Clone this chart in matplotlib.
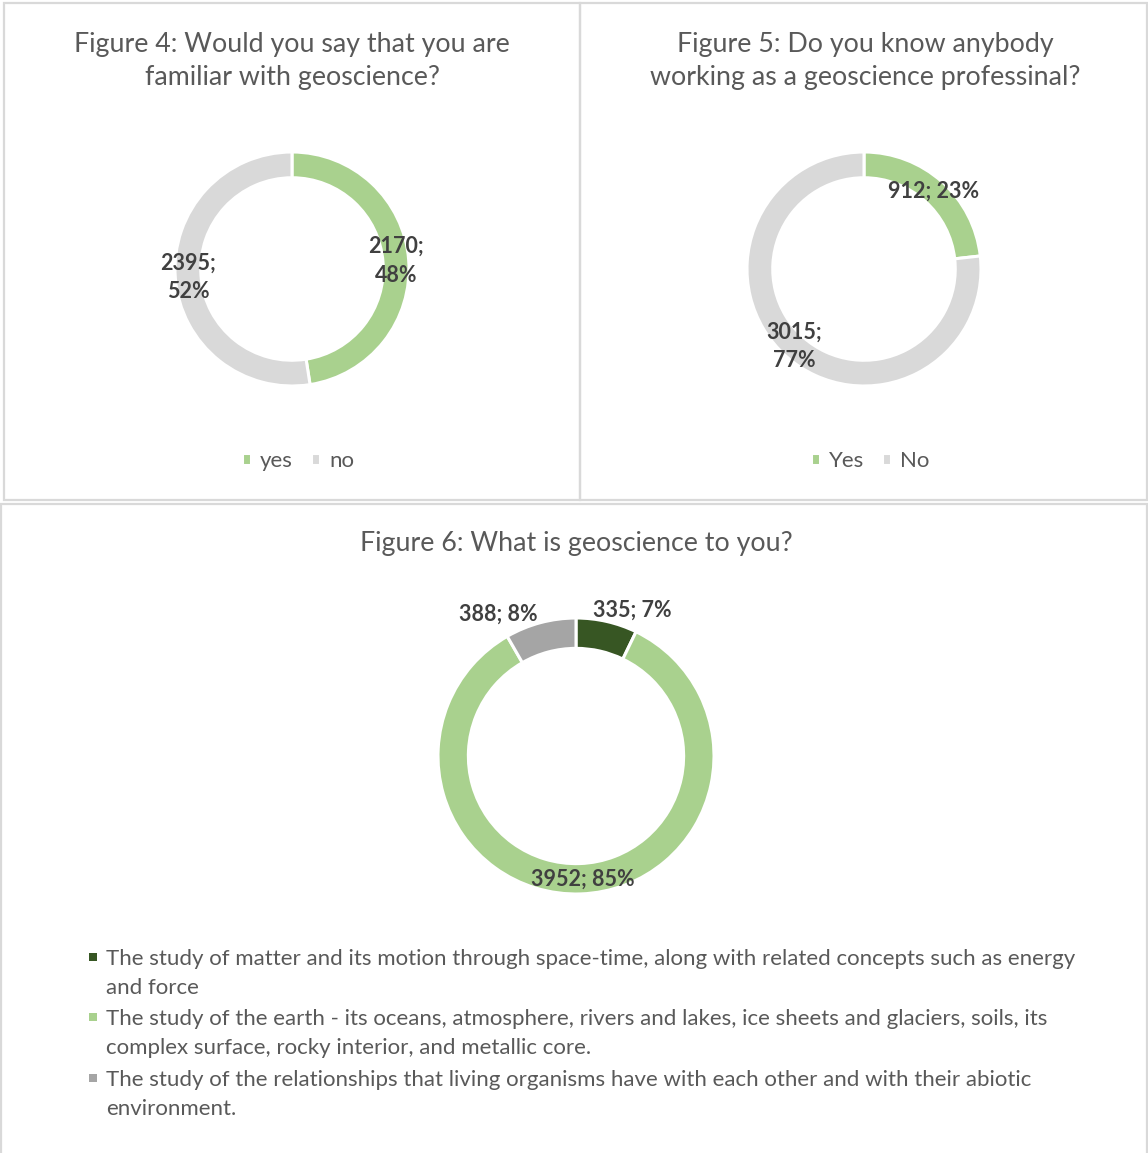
import matplotlib
matplotlib.use("Agg")
import matplotlib.pyplot as plt
from matplotlib.patches import Rectangle
import numpy as np

# ---- data ----
fig4_labels = ["yes", "no"]
fig4_values = [2170, 2395]
fig4_seps = [";\n", ";\n"]

fig5_labels = ["Yes", "No"]
fig5_values = [912, 3015]
fig5_seps = ["; ", ";\n"]

fig6_labels = [
    "The study of matter and its motion through space-time, along with related concepts such as energy\nand force",
    "The study of the earth - its oceans, atmosphere, rivers and lakes, ice sheets and glaciers, soils, its\ncomplex surface, rocky interior, and metallic core.",
    "The study of the relationships that living organisms have with each other and with their abiotic\nenvironment.",
]
fig6_values = [335, 3952, 388]
fig6_seps = ["; ", "; ", "; "]

titles = [
    "Figure 4: Would you say that you are\nfamiliar with geoscience?",
    "Figure 5: Do you know anybody\nworking as a geoscience professinal?",
    "Figure 6: What is geoscience to you?",
]

GREEN = "#A9D18E"
LIGHTGRAY = "#D9D9D9"
DARKGREEN = "#375623"
MIDGRAY = "#A5A5A5"
TITLE_C = "#595959"
LABEL_C = "#404040"
BORDER_C = "#D9D9D9"

FONT = "Lato"
plt.rcParams["font.family"] = [FONT, "DejaVu Sans"]

TITLE_FS = 19.3
LABEL_FS = 15.5
LEGEND_FS = 16

W, H = 1148, 1153
fig = plt.figure(figsize=(W / 100, H / 100), dpi=100)


def fx(px):
    return px / W


def fy(py):
    return 1 - py / H


# panel frames
for (x0, y0, x1, y1) in [(3.5, 3.5, 580, 499.5), (580, 3.5, 1147, 499.5), (0.5, 503.5, 1147, 1160)]:
    fig.patches.append(Rectangle((fx(x0), fy(y1)), fx(x1 - x0), fy(y0) - fy(y1),
                                 transform=fig.transFigure, fill=False,
                                 edgecolor=BORDER_C, linewidth=1.6))


def donut(cx, cy, r, values, colors, seps, width_frac, offsets=None):
    ax = fig.add_axes([fx(cx - r), fy(cy + r), fx(2 * r), fy(cy - r) - fy(cy + r)])
    wedges, _ = ax.pie(values, colors=colors, startangle=90, counterclock=False,
                       radius=1.0,
                       wedgeprops=dict(width=width_frac, edgecolor="white", linewidth=2.2))
    ax.set_xlim(-1, 1)
    ax.set_ylim(-1, 1)
    ax.set_aspect("equal")
    ax.axis("off")
    total = sum(values)
    rmid = 1 - width_frac / 2
    for i, (w, v) in enumerate(zip(wedges, values)):
        ang = np.deg2rad((w.theta1 + w.theta2) / 2)
        pct = round(100 * v / total)
        txt = f"{v}{seps[i]}{pct}%"
        dx, dy = (0, 0) if offsets is None else offsets[i]
        ax.annotate(txt, (rmid * np.cos(ang), rmid * np.sin(ang)),
                    xytext=(dx, dy), textcoords="offset pixels",
                    ha="center", va="center", fontsize=LABEL_FS, fontweight="bold",
                    color=LABEL_C, linespacing=1.45, annotation_clip=False)
    return ax, wedges


def top_legend(handles, labels, cx):
    fig.legend(handles, labels, loc="center", bbox_to_anchor=(fx(cx), fy(461)), ncol=2,
               frameon=False, fontsize=LEGEND_FS, handlelength=0.42, handleheight=0.42,
               handletextpad=0.4, columnspacing=0.8, labelcolor=TITLE_C)


# Figure 4
ax4, w4 = donut(292, 269, 117, fig4_values, [GREEN, LIGHTGRAY], fig4_seps, 0.22)
fig.text(fx(292), fy(61), titles[0], ha="center", va="center", fontsize=TITLE_FS,
         color=TITLE_C, linespacing=1.38)
top_legend(w4, fig4_labels, 298)

# Figure 5
ax5, w5 = donut(864, 269, 117, fig5_values, [GREEN, LIGHTGRAY], fig5_seps, 0.22)
fig.text(fx(865), fy(61), titles[1], ha="center", va="center", fontsize=TITLE_FS,
         color=TITLE_C, linespacing=1.38)
top_legend(w5, fig5_labels, 870)

# Figure 6
fig6_colors = [DARKGREEN, GREEN, MIDGRAY]
ax6, w6 = donut(576, 756, 138, fig6_values, fig6_colors, fig6_seps, 0.22,
                offsets=[(29, 26), (2, 0), (-46, 23)])
fig.text(fx(576), fy(544), titles[2], ha="center", va="center", fontsize=TITLE_FS,
         color=TITLE_C)

# Figure 6 legend, one wrapped entry per category
first_line_y = [957, 1017, 1078]
line_step = 29
for lab, col, y0 in zip(fig6_labels, fig6_colors, first_line_y):
    fig.patches.append(Rectangle((fx(89), fy(y0 + 4)), fx(8), fy(y0 - 4) - fy(y0 + 4),
                                 transform=fig.transFigure, facecolor=col, edgecolor="none"))
    for k, line in enumerate(lab.split("\n")):
        fig.text(fx(106), fy(y0 + k * line_step), line, ha="left", va="center_baseline",
                 fontsize=LEGEND_FS, color=TITLE_C)

fig.savefig("out.png", dpi=100)
